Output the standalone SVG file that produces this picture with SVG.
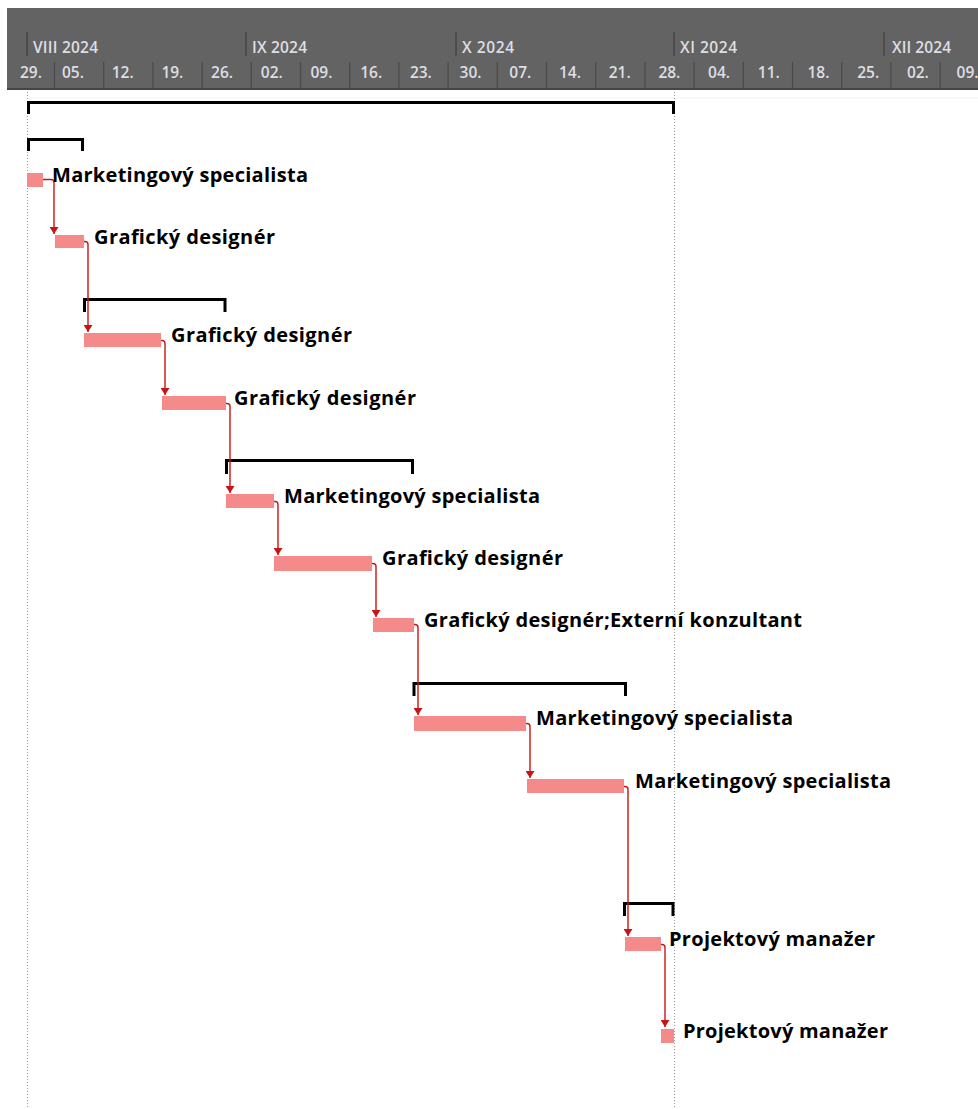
<svg xmlns="http://www.w3.org/2000/svg" width="978" height="1109" viewBox="0 0 978 1109">
<style>
.hdr{fill:#636363}
.mon{font-family:"Open Sans","Liberation Sans",sans-serif;font-size:15.5px;fill:#dedee2;font-weight:600}
.wk{font-family:"Open Sans","Liberation Sans",sans-serif;font-size:15.5px;fill:#dedee2;font-weight:600}
.mtick{stroke:#454545;stroke-width:1.5}
.wtick{stroke:#4a4a4a;stroke-width:1.2}
.dot{stroke:#9a9a9a;stroke-width:1;stroke-dasharray:1 2}
.sum{fill:none;stroke:#000;stroke-width:3;stroke-linejoin:miter}
.bar{fill:#f48a8a}
.lbl{font-family:"Open Sans","Liberation Sans",sans-serif;font-size:20px;font-weight:bold;fill:#000}
.con{fill:none;stroke:#c81414;stroke-width:1.4}
</style>
<defs>
<marker id="arr" markerUnits="userSpaceOnUse" viewBox="0 0 7 9" refX="7" refY="4.5" markerWidth="7" markerHeight="9" orient="auto">
<path d="M0,0 L7,4.5 L0,9 z" fill="#c81414"/>
</marker>
</defs>
<rect width="978" height="1109" fill="#fff"/>
<g id="header">
<rect class="hdr" x="7" y="8" width="971" height="82"/>
<line x1="7" y1="89" x2="978" y2="89" stroke="#454545" stroke-width="2"/>
<g>
<line class="mtick" x1="27" y1="32" x2="27" y2="56"/>
<line class="mtick" x1="246" y1="32" x2="246" y2="56"/>
<line class="mtick" x1="456" y1="32" x2="456" y2="56"/>
<line class="mtick" x1="674" y1="32" x2="674" y2="56"/>
<line class="mtick" x1="884" y1="32" x2="884" y2="56"/>
</g>
<text class="mon" x="33" y="53" textLength="65">VIII 2024</text>
<text class="mon" x="252" y="53" textLength="55">IX 2024</text>
<text class="mon" x="462" y="53" textLength="52">X 2024</text>
<text class="mon" x="680" y="53" textLength="57">XI 2024</text>
<text class="mon" x="892" y="53" textLength="59">XII 2024</text>
<g>
<line class="wtick" x1="54.5" y1="62" x2="54.5" y2="88"/>
<line class="wtick" x1="103.7" y1="62" x2="103.7" y2="88"/>
<line class="wtick" x1="152.9" y1="62" x2="152.9" y2="88"/>
<line class="wtick" x1="202.1" y1="62" x2="202.1" y2="88"/>
<line class="wtick" x1="251.3" y1="62" x2="251.3" y2="88"/>
<line class="wtick" x1="300.5" y1="62" x2="300.5" y2="88"/>
<line class="wtick" x1="349.7" y1="62" x2="349.7" y2="88"/>
<line class="wtick" x1="398.9" y1="62" x2="398.9" y2="88"/>
<line class="wtick" x1="448.1" y1="62" x2="448.1" y2="88"/>
<line class="wtick" x1="497.3" y1="62" x2="497.3" y2="88"/>
<line class="wtick" x1="546.5" y1="62" x2="546.5" y2="88"/>
<line class="wtick" x1="595.7" y1="62" x2="595.7" y2="88"/>
<line class="wtick" x1="644.9" y1="62" x2="644.9" y2="88"/>
<line class="wtick" x1="694.1" y1="62" x2="694.1" y2="88"/>
<line class="wtick" x1="743.3" y1="62" x2="743.3" y2="88"/>
<line class="wtick" x1="792.5" y1="62" x2="792.5" y2="88"/>
<line class="wtick" x1="841.7" y1="62" x2="841.7" y2="88"/>
<line class="wtick" x1="890.9" y1="62" x2="890.9" y2="88"/>
<line class="wtick" x1="940.1" y1="62" x2="940.1" y2="88"/>
</g>
<text class="wk" x="20" y="78">29.</text>
<text class="wk" x="62" y="78">05.</text>
<text class="wk" x="111.7" y="78">12.</text>
<text class="wk" x="161.4" y="78">19.</text>
<text class="wk" x="211.1" y="78">26.</text>
<text class="wk" x="260.8" y="78">02.</text>
<text class="wk" x="310.5" y="78">09.</text>
<text class="wk" x="360.2" y="78">16.</text>
<text class="wk" x="409.9" y="78">23.</text>
<text class="wk" x="459.6" y="78">30.</text>
<text class="wk" x="509.3" y="78">07.</text>
<text class="wk" x="559" y="78">14.</text>
<text class="wk" x="608.7" y="78">21.</text>
<text class="wk" x="658.4" y="78">28.</text>
<text class="wk" x="708.1" y="78">04.</text>
<text class="wk" x="757.8" y="78">11.</text>
<text class="wk" x="807.5" y="78">18.</text>
<text class="wk" x="857.2" y="78">25.</text>
<text class="wk" x="906.9" y="78">02.</text>
<text class="wk" x="956.6" y="78">09.</text>
</g>
<line x1="27" y1="98" x2="978" y2="98" stroke="#f0f0f0" stroke-width="1"/>
<line class="dot" x1="27.5" y1="92" x2="27.5" y2="1109"/>
<line class="dot" x1="674.5" y1="92" x2="674.5" y2="1109"/>
<g id="sum1"><path class="sum" d="M28.5,114 V102.5 H673.5 V114"/></g>
<g id="sum2"><path class="sum" d="M28.5,151 V139.5 H82.5 V151"/></g>
<g id="sum3"><path class="sum" d="M84.5,312 V299.5 H225 V312"/></g>
<g id="sum4"><path class="sum" d="M226.5,474 V460.5 H412.5 V474"/></g>
<g id="sum5"><path class="sum" d="M414,696 V683.5 H625.5 V696"/></g>
<g id="sum6"><path class="sum" d="M624.5,916 V903.5 H673 V916"/></g>
<g id="connectors">
<path class="con" marker-end="url(#arr)" d="M43,179.5 H51 Q54,179.5 54,182.5 V234"/>
<path class="con" marker-end="url(#arr)" d="M84,241.5 H85 Q88,241.5 88,244.5 V332"/>
<path class="con" marker-end="url(#arr)" d="M161,340.5 H162 Q165,340.5 165,343.5 V395"/>
<path class="con" marker-end="url(#arr)" d="M226,403.5 H227 Q230,403.5 230,406.5 V493"/>
<path class="con" marker-end="url(#arr)" d="M274,501.5 H275 Q278,501.5 278,504.5 V555"/>
<path class="con" marker-end="url(#arr)" d="M372,563.5 H373 Q376,563.5 376,566.5 V617"/>
<path class="con" marker-end="url(#arr)" d="M414,624.5 H415 Q418,624.5 418,627.5 V715"/>
<path class="con" marker-end="url(#arr)" d="M526,723.5 H527 Q530,723.5 530,726.5 V778"/>
<path class="con" marker-end="url(#arr)" d="M624,786.5 H625 Q628,786.5 628,789.5 V936"/>
<path class="con" marker-end="url(#arr)" d="M661,944.5 H662 Q665,944.5 665,947.5 V1027"/>
</g>
<g id="task1"><rect class="bar" x="27" y="173" width="16" height="14"/><text class="lbl" x="52" y="182" textLength="256">Marketingový specialista</text></g>
<g id="task2"><rect class="bar" x="55" y="235" width="29" height="13"/><text class="lbl" x="94" y="244" textLength="181">Grafický designér</text></g>
<g id="task3"><rect class="bar" x="84" y="333" width="77" height="14"/><text class="lbl" x="171" y="342" textLength="181">Grafický designér</text></g>
<g id="task4"><rect class="bar" x="162" y="396" width="64" height="14"/><text class="lbl" x="234" y="405" textLength="182">Grafický designér</text></g>
<g id="task5"><rect class="bar" x="226" y="494" width="48" height="14"/><text class="lbl" x="284" y="503" textLength="256">Marketingový specialista</text></g>
<g id="task6"><rect class="bar" x="274" y="556" width="98" height="15"/><text class="lbl" x="382" y="565" textLength="181">Grafický designér</text></g>
<g id="task7"><rect class="bar" x="373" y="618" width="41" height="14"/><text class="lbl" x="424" y="627" textLength="378">Grafický designér;Externí konzultant</text></g>
<g id="task8"><rect class="bar" x="414" y="716" width="112" height="15"/><text class="lbl" x="536" y="725" textLength="257">Marketingový specialista</text></g>
<g id="task9"><rect class="bar" x="527" y="779" width="97" height="14"/><text class="lbl" x="635" y="788" textLength="256">Marketingový specialista</text></g>
<g id="task10"><rect class="bar" x="625" y="937" width="36" height="14"/><text class="lbl" x="669" y="946" textLength="206">Projektový manažer</text></g>
<g id="task11"><rect class="bar" x="661" y="1029" width="13" height="14"/><text class="lbl" x="683" y="1038" textLength="205">Projektový manažer</text></g>
</svg>
